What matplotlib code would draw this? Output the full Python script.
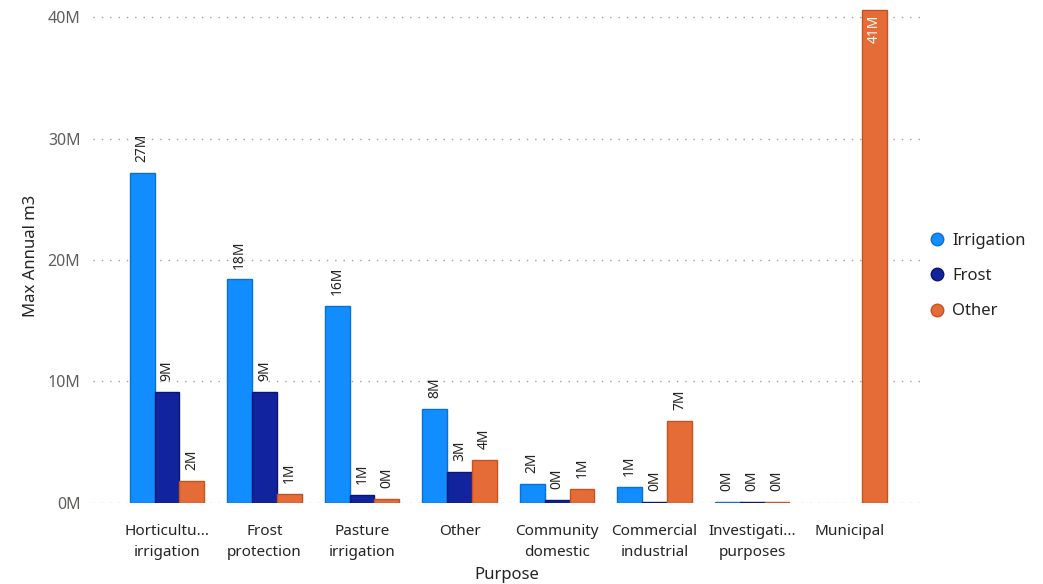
import matplotlib

matplotlib.use("Agg")
import matplotlib.pyplot as plt
import numpy as np

plt.rcParams["font.family"] = ["Noto Sans", "DejaVu Sans"]

PURPOSES = [
    "Horticultu...\nirrigation",
    "Frost\nprotection",
    "Pasture\nirrigation",
    "Other",
    "Community\ndomestic",
    "Commercial\nindustrial",
    "Investigati...\npurposes",
    "Municipal",
]
SERIES = ["Irrigation", "Frost", "Other"]
IRRIGATION = [27.2, 18.4, 16.2, 7.7, 1.56, 1.3, 0.1, np.nan]
FROST = [9.1, 9.1, 0.66, 2.55, 0.25, 0.05, 0.05, np.nan]
OTHER = [1.8, 0.74, 0.3, 3.5, 1.15, 6.75, 0.1, 40.6]
COLORS = ["#118DFF", "#12239E", "#E66C37"]
EDGES = ["#0a6fd6", "#0b1670", "#c4531f"]

Y_TICKS = [0, 10, 20, 30, 40]
Y_MAX = 40.7

fig = plt.figure(figsize=(10.43, 5.84), dpi=100)
ax = fig.add_axes([0.089, 0.139, 0.793, 0.846])

x = np.arange(len(PURPOSES))
width = 0.255
values = [IRRIGATION, FROST, OTHER]

for i, (name, vals) in enumerate(zip(SERIES, values)):
    offs = (i - 1) * width
    vals = np.array(vals, dtype=float)
    ax.bar(x + offs, vals, width, color=COLORS[i], edgecolor=EDGES[i],
           linewidth=1.0, label=name, zorder=3)
    for xi, v in zip(x + offs, vals):
        if np.isnan(v):
            continue
        text = f"{v:.0f}M"
        if v > Y_MAX - 2:
            ax.text(xi, Y_MAX - 0.5, text, rotation=90, ha="center", va="top",
                    fontsize=10, color="white", zorder=4)
        else:
            ax.text(xi, v + 0.9, text, rotation=90, ha="center", va="bottom",
                    fontsize=10, color="#252423", zorder=4)

ax.set_xlim(-0.76, 7.72)
ax.set_ylim(0, Y_MAX)
ax.set_yticks(Y_TICKS)
ax.set_yticklabels([f"{t}M" for t in Y_TICKS])
ax.set_xticks(x)
ax.set_xticklabels(PURPOSES, linespacing=1.55)
ax.tick_params(axis="y", length=0, pad=9, labelsize=11.5, labelcolor="#605E5C")
ax.tick_params(axis="x", length=0, pad=15, labelsize=11, labelcolor="#252423")
ax.grid(axis="y", linestyle=(0, (1, 5)), color="#A0A0A0", linewidth=1.0, zorder=0)
for spine in ax.spines.values():
    spine.set_visible(False)

ax.set_ylabel("Max Annual m3", fontsize=12, color="#252423", labelpad=6)
ax.set_xlabel("Purpose", fontsize=12, color="#252423", labelpad=5)

handles = [plt.Line2D([0], [0], marker="o", linestyle="", markersize=9,
                      markerfacecolor=c, markeredgecolor=e) for c, e in zip(COLORS, EDGES)]
fig.legend(handles, SERIES, loc="center left", bbox_to_anchor=(0.868, 0.527),
           frameon=False, fontsize=12, handletextpad=-0.1, labelspacing=1.15,
           labelcolor="#252423")

fig.savefig("out.png", dpi=100)
